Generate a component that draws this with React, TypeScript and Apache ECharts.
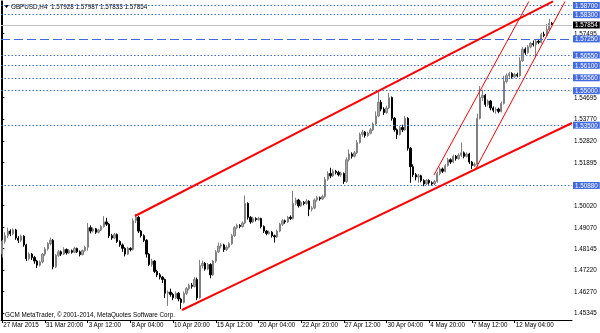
import { useEffect, useRef } from "react";
import * as echarts from "echarts";

const symbolTitle = "GBPUSD,H4";
const lastOHLC = ["1.57928", "1.57987", "1.57833", "1.57854"];
const copyright = "GCM MetaTrader, © 2001-2014, MetaQuotes Software Corp.";

const tickLabels = [
  "27 Mar 2015", "31 Mar 20:00", "3 Apr 12:00", "8 Apr 04:00", "10 Apr 20:00",
  "15 Apr 12:00", "20 Apr 04:00", "22 Apr 20:00", "27 Apr 12:00", "30 Apr 04:00",
  "4 May 20:00", "7 May 12:00", "12 May 04:00",
];
const BARS_PER_LABEL = 16;
const SLOT_COUNT = 214;

const yMin = 1.45038;
const yMax = 1.58896;
const yTickValues = [1.57495, 1.54695, 1.5377, 1.5282, 1.51895, 1.5002, 1.4907, 1.48145, 1.4722, 1.4627, 1.45345];
const levelLines = [1.587, 1.583, 1.5655, 1.561, 1.5556, 1.55, 1.535, 1.5088];
const dashedLevel = 1.5725;
const currentPrice = 1.57854;

// [open, close, low, high]
const candles: number[][] = [
  [1.4790, 1.4845, 1.4775, 1.4852], [1.4845, 1.4870, 1.4835, 1.4885], [1.4870, 1.4890, 1.4860, 1.4905], [1.4890, 1.4878, 1.4868, 1.4898],
  [1.4878, 1.4895, 1.4872, 1.4902], [1.4895, 1.4860, 1.4852, 1.4900], [1.4860, 1.4850, 1.4838, 1.4868], [1.4850, 1.4868, 1.4842, 1.4875],
  [1.4868, 1.4830, 1.4822, 1.4872], [1.4830, 1.4770, 1.4760, 1.4835], [1.4770, 1.4790, 1.4762, 1.4798], [1.4790, 1.4775, 1.4765, 1.4795],
  [1.4775, 1.4760, 1.4748, 1.4782], [1.4760, 1.4742, 1.4730, 1.4765], [1.4742, 1.4756, 1.4736, 1.4762], [1.4756, 1.4790, 1.4750, 1.4795],
  [1.4790, 1.4812, 1.4782, 1.4820], [1.4812, 1.4836, 1.4805, 1.4842], [1.4836, 1.4850, 1.4828, 1.4862], [1.4850, 1.4735, 1.4724, 1.4856],
  [1.4735, 1.4785, 1.4730, 1.4790], [1.4785, 1.4800, 1.4778, 1.4808], [1.4800, 1.4790, 1.4782, 1.4806], [1.4790, 1.4810, 1.4786, 1.4820],
  [1.4810, 1.4795, 1.4788, 1.4815], [1.4795, 1.4805, 1.4790, 1.4812], [1.4805, 1.4798, 1.4792, 1.4810], [1.4798, 1.4815, 1.4794, 1.4822],
  [1.4815, 1.4800, 1.4795, 1.4818], [1.4800, 1.4788, 1.4780, 1.4806], [1.4788, 1.4805, 1.4784, 1.4810], [1.4805, 1.4820, 1.4800, 1.4826],
  [1.4820, 1.4905, 1.4805, 1.4925], [1.4905, 1.4890, 1.4880, 1.4915], [1.4890, 1.4900, 1.4884, 1.4906], [1.4900, 1.4885, 1.4878, 1.4904],
  [1.4885, 1.4895, 1.4880, 1.4900], [1.4895, 1.4910, 1.4890, 1.4916], [1.4910, 1.4930, 1.4905, 1.4955], [1.4930, 1.4920, 1.4912, 1.4948],
  [1.4920, 1.4870, 1.4860, 1.4925], [1.4870, 1.4860, 1.4852, 1.4878], [1.4860, 1.4875, 1.4855, 1.4882], [1.4875, 1.4845, 1.4838, 1.4880],
  [1.4845, 1.4830, 1.4822, 1.4850], [1.4830, 1.4815, 1.4800, 1.4836], [1.4815, 1.4790, 1.4780, 1.4820], [1.4790, 1.4815, 1.4786, 1.4822],
  [1.4815, 1.4810, 1.4802, 1.4820], [1.4810, 1.4935, 1.4805, 1.4945], [1.4935, 1.4950, 1.4925, 1.4965], [1.4950, 1.4890, 1.4882, 1.4955],
  [1.4890, 1.4870, 1.4862, 1.4895], [1.4870, 1.4850, 1.4842, 1.4876], [1.4850, 1.4790, 1.4775, 1.4855], [1.4790, 1.4745, 1.4738, 1.4795],
  [1.4745, 1.4760, 1.4735, 1.4770], [1.4760, 1.4715, 1.4708, 1.4764], [1.4715, 1.4700, 1.4690, 1.4722], [1.4700, 1.4690, 1.4680, 1.4708],
  [1.4690, 1.4680, 1.4665, 1.4695], [1.4680, 1.4620, 1.4600, 1.4684], [1.4620, 1.4625, 1.4565, 1.4632], [1.4625, 1.4615, 1.4605, 1.4640],
  [1.4615, 1.4600, 1.4590, 1.4622], [1.4600, 1.4620, 1.4595, 1.4628], [1.4620, 1.4595, 1.4585, 1.4625], [1.4595, 1.4580, 1.4552, 1.4600],
  [1.4580, 1.4620, 1.4575, 1.4628], [1.4620, 1.4640, 1.4612, 1.4648], [1.4640, 1.4655, 1.4632, 1.4662], [1.4655, 1.4650, 1.4640, 1.4665],
  [1.4650, 1.4680, 1.4645, 1.4690], [1.4680, 1.4600, 1.4590, 1.4688], [1.4600, 1.4740, 1.4596, 1.4765], [1.4740, 1.4750, 1.4728, 1.4762],
  [1.4750, 1.4725, 1.4718, 1.4756], [1.4725, 1.4745, 1.4720, 1.4752], [1.4745, 1.4700, 1.4685, 1.4750], [1.4700, 1.4760, 1.4695, 1.4765],
  [1.4760, 1.4800, 1.4752, 1.4808], [1.4800, 1.4825, 1.4795, 1.4840], [1.4825, 1.4830, 1.4815, 1.4838], [1.4830, 1.4810, 1.4800, 1.4835],
  [1.4810, 1.4820, 1.4804, 1.4828], [1.4820, 1.4835, 1.4815, 1.4842], [1.4835, 1.4870, 1.4830, 1.4878], [1.4870, 1.4905, 1.4865, 1.4912],
  [1.4905, 1.4915, 1.4898, 1.4922], [1.4915, 1.4910, 1.4902, 1.4920], [1.4910, 1.4925, 1.4905, 1.4932], [1.4925, 1.5010, 1.4920, 1.5045],
  [1.5010, 1.4950, 1.4940, 1.5015], [1.4950, 1.4930, 1.4922, 1.4955], [1.4930, 1.4945, 1.4925, 1.4952], [1.4945, 1.4940, 1.4932, 1.4950],
  [1.4940, 1.4945, 1.4935, 1.4952], [1.4945, 1.4910, 1.4902, 1.4948], [1.4910, 1.4890, 1.4882, 1.4915], [1.4890, 1.4880, 1.4872, 1.4895],
  [1.4880, 1.4885, 1.4874, 1.4892], [1.4885, 1.4870, 1.4862, 1.4890], [1.4870, 1.4865, 1.4840, 1.4875], [1.4865, 1.4890, 1.4860, 1.4896],
  [1.4890, 1.4920, 1.4885, 1.4926], [1.4920, 1.4935, 1.4912, 1.4942], [1.4935, 1.4930, 1.4922, 1.4940], [1.4930, 1.4950, 1.4925, 1.4956],
  [1.4950, 1.4945, 1.4938, 1.4958], [1.4945, 1.5010, 1.4940, 1.5065], [1.5010, 1.5025, 1.5002, 1.5035], [1.5025, 1.5000, 1.4992, 1.5030],
  [1.5000, 1.5015, 1.4995, 1.5022], [1.5015, 1.5010, 1.5002, 1.5020], [1.5010, 1.5020, 1.5004, 1.5028], [1.5020, 1.4985, 1.4955, 1.5024],
  [1.4985, 1.4990, 1.4975, 1.4998], [1.4990, 1.5025, 1.4985, 1.5032], [1.5025, 1.5035, 1.5018, 1.5042], [1.5035, 1.5030, 1.5022, 1.5040],
  [1.5030, 1.5040, 1.5025, 1.5048], [1.5040, 1.5115, 1.5035, 1.5125], [1.5115, 1.5140, 1.5108, 1.5150], [1.5140, 1.5130, 1.5120, 1.5165],
  [1.5130, 1.5150, 1.5125, 1.5158], [1.5150, 1.5145, 1.5136, 1.5156], [1.5145, 1.5135, 1.5128, 1.5152], [1.5135, 1.5140, 1.5126, 1.5148],
  [1.5140, 1.5105, 1.5095, 1.5145], [1.5105, 1.5200, 1.5100, 1.5210], [1.5200, 1.5225, 1.5192, 1.5245], [1.5225, 1.5215, 1.5205, 1.5232],
  [1.5215, 1.5230, 1.5210, 1.5238], [1.5230, 1.5275, 1.5225, 1.5285], [1.5275, 1.5310, 1.5270, 1.5318], [1.5310, 1.5320, 1.5300, 1.5330],
  [1.5320, 1.5305, 1.5296, 1.5325], [1.5305, 1.5315, 1.5300, 1.5322], [1.5315, 1.5330, 1.5310, 1.5338], [1.5330, 1.5355, 1.5325, 1.5362],
  [1.5355, 1.5390, 1.5350, 1.5410], [1.5390, 1.5450, 1.5385, 1.5495], [1.5450, 1.5420, 1.5410, 1.5460], [1.5420, 1.5405, 1.5395, 1.5428],
  [1.5405, 1.5425, 1.5400, 1.5435], [1.5425, 1.5470, 1.5420, 1.5490], [1.5470, 1.5380, 1.5370, 1.5475], [1.5380, 1.5330, 1.5322, 1.5385],
  [1.5330, 1.5310, 1.5290, 1.5336], [1.5310, 1.5340, 1.5305, 1.5348], [1.5340, 1.5330, 1.5320, 1.5352], [1.5330, 1.5380, 1.5325, 1.5390],
  [1.5380, 1.5250, 1.5240, 1.5385], [1.5250, 1.5170, 1.5100, 1.5255], [1.5170, 1.5135, 1.5125, 1.5180], [1.5135, 1.5125, 1.5110, 1.5142],
  [1.5125, 1.5130, 1.5100, 1.5138], [1.5130, 1.5110, 1.5102, 1.5135], [1.5110, 1.5095, 1.5085, 1.5115], [1.5095, 1.5110, 1.5090, 1.5116],
  [1.5110, 1.5100, 1.5092, 1.5115], [1.5100, 1.5095, 1.5088, 1.5106], [1.5095, 1.5105, 1.5090, 1.5112], [1.5105, 1.5140, 1.5100, 1.5148],
  [1.5140, 1.5160, 1.5132, 1.5168], [1.5160, 1.5150, 1.5142, 1.5166], [1.5150, 1.5175, 1.5145, 1.5182], [1.5175, 1.5200, 1.5170, 1.5208],
  [1.5200, 1.5190, 1.5182, 1.5206], [1.5190, 1.5215, 1.5185, 1.5222], [1.5215, 1.5205, 1.5196, 1.5220], [1.5205, 1.5220, 1.5200, 1.5228],
  [1.5220, 1.5230, 1.5212, 1.5275], [1.5230, 1.5215, 1.5206, 1.5236], [1.5215, 1.5225, 1.5210, 1.5232], [1.5225, 1.5190, 1.5182, 1.5230],
  [1.5190, 1.5175, 1.5160, 1.5195], [1.5175, 1.5180, 1.5168, 1.5188], [1.5180, 1.5380, 1.5170, 1.5400], [1.5380, 1.5470, 1.5375, 1.5520],
  [1.5470, 1.5480, 1.5455, 1.5505], [1.5480, 1.5440, 1.5430, 1.5486], [1.5440, 1.5455, 1.5432, 1.5462], [1.5455, 1.5425, 1.5415, 1.5460],
  [1.5425, 1.5415, 1.5406, 1.5432], [1.5415, 1.5420, 1.5400, 1.5428], [1.5420, 1.5410, 1.5402, 1.5426], [1.5410, 1.5445, 1.5405, 1.5452],
  [1.5445, 1.5540, 1.5440, 1.5565], [1.5540, 1.5565, 1.5532, 1.5575], [1.5565, 1.5575, 1.5556, 1.5582], [1.5575, 1.5560, 1.5552, 1.5580],
  [1.5560, 1.5570, 1.5555, 1.5577], [1.5570, 1.5565, 1.5558, 1.5578], [1.5565, 1.5630, 1.5560, 1.5645], [1.5630, 1.5680, 1.5625, 1.5690],
  [1.5680, 1.5665, 1.5656, 1.5688], [1.5665, 1.5690, 1.5660, 1.5698], [1.5690, 1.5705, 1.5684, 1.5712], [1.5705, 1.5700, 1.5692, 1.5718],
  [1.5700, 1.5715, 1.5645, 1.5722], [1.5715, 1.5710, 1.5702, 1.5725], [1.5710, 1.5745, 1.5705, 1.5752], [1.5745, 1.5740, 1.5732, 1.5756],
  [1.5740, 1.5765, 1.5735, 1.5790], [1.5765, 1.57928, 1.5760, 1.5812], [1.57928, 1.57854, 1.57833, 1.57987],
];

// trend lines as [barIndex, price] end points
const channelUpper = [[49.72, 1.49556], [206.37, 1.58883]];
const channelLower = [[67.33, 1.45473], [213.5, 1.53596]];
const thinLineA = [[161.78, 1.51337], [197.31, 1.58874]];
const thinLineB = [[177.15, 1.51555], [210.88, 1.58874]];

const FONT = "Liberation Sans";
const FS = 6.3;
const LEVEL_COLOR = "#4169e1";

export default function App() {
  const ref = useRef<HTMLDivElement>(null);
  useEffect(() => {
    if (!ref.current) return;
    const chart = echarts.init(ref.current, undefined, { renderer: "svg" });
    const categories = Array.from({ length: SLOT_COUNT }, (_, i) => String(i));
    const showTick = (idx: number) => idx % BARS_PER_LABEL === 0 && idx / BARS_PER_LABEL < tickLabels.length;

    const levelLabel = (bg: string) => ({
      show: true,
      position: "end",
      distance: 1,
      color: "#fff",
      backgroundColor: bg,
      padding: [1, 2, 0, 2],
      fontSize: FS,
      fontFamily: FONT,
    });

    const markData: any[] = [
      ...levelLines.map((v) => ({
        yAxis: v,
        lineStyle: { color: LEVEL_COLOR, type: [1.5, 2], width: 1 },
        label: { ...levelLabel(LEVEL_COLOR), formatter: v.toFixed(5) },
      })),
      {
        yAxis: dashedLevel,
        lineStyle: { color: LEVEL_COLOR, type: [9, 4], width: 1 },
        label: { ...levelLabel(LEVEL_COLOR), formatter: dashedLevel.toFixed(5) },
      },
      {
        yAxis: currentPrice,
        lineStyle: { color: "#c0c0c0", type: "solid", width: 1 },
        label: { ...levelLabel("#000"), formatter: currentPrice.toFixed(5) },
      },
    ];

    const trend = (data: number[][], width: number) => ({
      type: "line",
      xAxisIndex: 1,
      yAxisIndex: 0,
      data,
      symbol: "none",
      silent: true,
      lineStyle: { color: "#ff0000", width },
      z: 5,
    });

    chart.setOption({
      animation: false,
      grid: { left: 1, right: 28, top: 1, bottom: 13, containLabel: false },
      xAxis: [
        {
          type: "category",
          data: categories,
          boundaryGap: true,
          axisLine: { show: true, lineStyle: { color: "#000", width: 1 } },
          axisTick: { show: true, interval: (i: number) => showTick(i), alignWithLabel: true, length: 3, lineStyle: { color: "#000" } },
          axisLabel: {
            interval: (i: number) => showTick(i),
            formatter: (_v: string, i: number) => tickLabels[i / BARS_PER_LABEL] ?? "",
            align: "left",
            margin: 1.5,
            fontSize: FS,
            fontFamily: FONT,
            color: "#000",
            padding: [0, 0, 0, 1],
          },
          splitLine: { show: false },
        },
        { type: "value", min: -0.5, max: SLOT_COUNT - 0.5, show: false },
      ],
      yAxis: [
        {
          type: "value",
          position: "right",
          min: yMin,
          max: yMax,
          axisLine: { show: true, lineStyle: { color: "#000", width: 1 } },
          axisTick: { show: true, customValues: yTickValues, length: 2, lineStyle: { color: "#000" } },
          axisLabel: {
            customValues: yTickValues,
            formatter: (v: number) => v.toFixed(5),
            margin: 2,
            fontSize: FS,
            fontFamily: FONT,
            color: "#000",
          },
          splitLine: { show: false },
        },
        {
          type: "value",
          position: "left",
          min: yMin,
          max: yMax,
          axisLine: { show: true, lineStyle: { color: "#000", width: 1 } },
          axisTick: { show: false },
          axisLabel: { show: false },
          splitLine: { show: false },
        },
      ],
      series: [
        {
          type: "candlestick",
          data: candles,
          barWidth: 1.8,
          itemStyle: {
            color: "#a8a8a8",
            color0: "#000000",
            borderColor: "#808080",
            borderColor0: "#000000",
            borderWidth: 1,
          },
          markLine: {
            silent: true,
            symbol: ["none", "none"],
            animation: false,
            precision: 5,
            data: markData,
          },
          z: 3,
        },
        trend(channelUpper, 2),
        trend(channelLower, 2),
        trend(thinLineA, 1),
        trend(thinLineB, 1),
      ],
      graphic: [
        { type: "polygon", shape: { points: [[4, 5], [9, 5], [6.5, 8]] }, style: { fill: "#000" } },
        {
          type: "text",
          left: 11,
          top: 3,
          style: { text: `${symbolTitle}  ${lastOHLC.join(" ")}`, font: `${FS}px "${FONT}"`, fill: "#000" },
        },
        {
          type: "text",
          left: 5,
          top: 311,
          style: { text: copyright, font: `${FS}px "${FONT}"`, fill: "#000" },
        },
      ],
    });
    return () => chart.dispose();
  }, []);
  return <div ref={ref} style={{ position: "fixed", left: 0, top: 0, width: 600, height: 333 }} />;
}
